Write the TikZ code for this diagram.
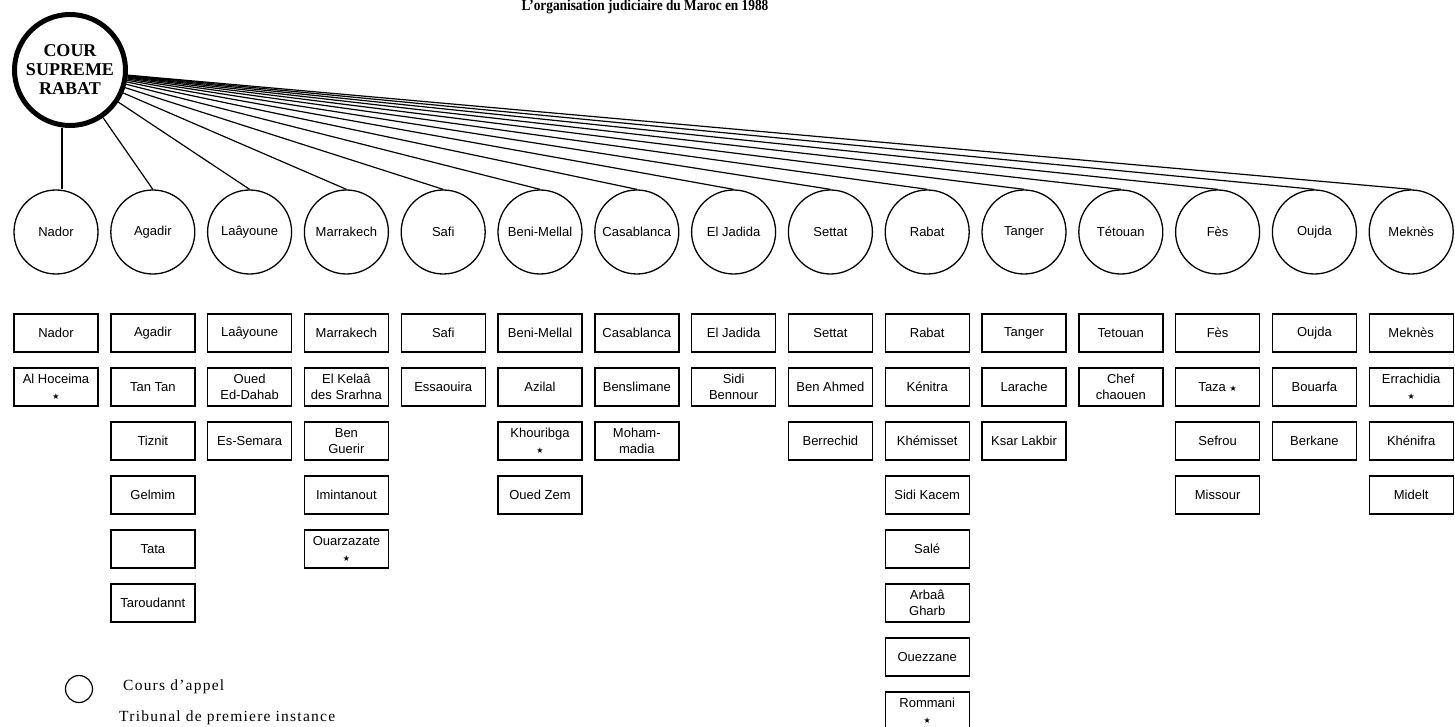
\documentclass[tikz,border=0pt]{standalone}
\usepackage{fontspec}
\setmainfont{Liberation Sans}
\newfontfamily\serifb{Liberation Serif}
\newfontfamily\titlefont[FakeStretch=0.86]{Liberation Serif}
\newfontfamily\legfont[LetterSpace=8]{Liberation Serif}
\newfontfamily\symb{DejaVu Sans}
\usetikzlibrary{calc}
\newcommand\etoile{{\symb\fontsize{8}{8}\selectfont ★}}
\newcommand\tribox[3]{\node[trib] (b#1-#2) at ({56+96.8*(#1-1)},{333+54*(#2-1)}) {#3};}
\begin{document}
\begin{tikzpicture}[x=1pt,y=-1pt,
  court/.style={circle,draw,line width=1.3pt,minimum size=84pt,inner sep=0pt,font=\fontsize{13}{15}\selectfont},
  trib/.style={rectangle,draw,line width=1.4pt,minimum width=84pt,minimum height=38pt,inner sep=1pt,align=center,font=\fontsize{13}{16}\selectfont},
  link/.style={line width=1.2pt},
  supreme/.style={circle,draw,line width=5pt,minimum size=111pt,inner sep=0pt,align=center,font=\serifb\bfseries\fontsize{18}{19}\selectfont},
  legtext/.style={anchor=base west,inner sep=0pt,font=\legfont\fontsize{15.5}{16}\selectfont}
]
\useasboundingbox (0,0) rectangle (1455,727);

\node[anchor=base,inner sep=0pt,font=\titlefont\bfseries\fontsize{15.5}{15.5}\selectfont] (title) at (645,11) {L’organisation judiciaire du Maroc en 1988};

\node[supreme] (cs) at (70,70) {COUR\\SUPREME\\RABAT};

\foreach \i/\nm in {1/Nador,2/Agadir,3/Laâyoune,4/Marrakech,5/Safi,6/Beni-Mellal,7/Casablanca,8/El Jadida,9/Settat,10/Rabat,11/Tanger,12/Tétouan,13/Fès,14/Oujda,15/Meknès}
  \node[court] (c\i) at ({56+96.8*(\i-1)},232) {\nm};

\coordinate (nt) at ($(c1.north)+(6,0)$);
\draw[link] (nt |- cs.south) -- (nt);
\foreach \i in {2,...,15}
  \draw[link] (cs) -- (c\i.north);

% Nador
\tribox{1}{1}{Nador}
\tribox{1}{2}{Al Hoceima\\\etoile}
% Agadir
\tribox{2}{1}{Agadir}
\tribox{2}{2}{Tan Tan}
\tribox{2}{3}{Tiznit}
\tribox{2}{4}{Gelmim}
\tribox{2}{5}{Tata}
\tribox{2}{6}{Taroudannt}
% Laayoune
\tribox{3}{1}{Laâyoune}
\tribox{3}{2}{Oued\\Ed-Dahab}
\tribox{3}{3}{Es-Semara}
% Marrakech
\tribox{4}{1}{Marrakech}
\tribox{4}{2}{El Kelaâ\\des Srarhna}
\tribox{4}{3}{Ben\\Guerir}
\tribox{4}{4}{Imintanout}
\tribox{4}{5}{Ouarzazate\\\etoile}
% Safi
\tribox{5}{1}{Safi}
\tribox{5}{2}{Essaouira}
% Beni-Mellal
\tribox{6}{1}{Beni-Mellal}
\tribox{6}{2}{Azilal}
\tribox{6}{3}{Khouribga\\\etoile}
\tribox{6}{4}{Oued Zem}
% Casablanca
\tribox{7}{1}{Casablanca}
\tribox{7}{2}{Benslimane}
\tribox{7}{3}{Moham-\\madia}
% El Jadida
\tribox{8}{1}{El Jadida}
\tribox{8}{2}{Sidi\\Bennour}
% Settat
\tribox{9}{1}{Settat}
\tribox{9}{2}{Ben Ahmed}
\tribox{9}{3}{Berrechid}
% Rabat
\tribox{10}{1}{Rabat}
\tribox{10}{2}{Kénitra}
\tribox{10}{3}{Khémisset}
\tribox{10}{4}{Sidi Kacem}
\tribox{10}{5}{Salé}
\tribox{10}{6}{Arbaâ\\Gharb}
\tribox{10}{7}{Ouezzane}
\tribox{10}{8}{Rommani\\\etoile}
% Tanger
\tribox{11}{1}{Tanger}
\tribox{11}{2}{Larache}
\tribox{11}{3}{Ksar Lakbir}
% Tetouan
\tribox{12}{1}{Tetouan}
\tribox{12}{2}{Chef\\chaouen}
% Fes
\tribox{13}{1}{Fès}
\tribox{13}{2}{Taza \etoile}
\tribox{13}{3}{Sefrou}
\tribox{13}{4}{Missour}
% Oujda
\tribox{14}{1}{Oujda}
\tribox{14}{2}{Bouarfa}
\tribox{14}{3}{Berkane}
% Meknes
\tribox{15}{1}{Meknès}
\tribox{15}{2}{Errachidia\\\etoile}
\tribox{15}{3}{Khénifra}
\tribox{15}{4}{Midelt}

% Legend
\node[circle,draw,line width=1.2pt,minimum size=27pt,inner sep=0pt] (lc) at (79,689) {};
\node[legtext] (lt1) at (123,690) {Cours d’appel};
\node[legtext] (lt2) at (119,721) {Tribunal de premiere instance};
\end{tikzpicture}
\end{document}
